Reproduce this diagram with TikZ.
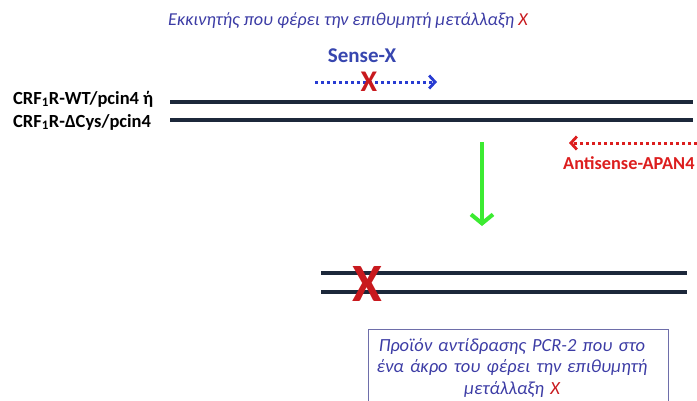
\documentclass[tikz,border=0pt]{standalone}
\usepackage{fontspec}
\setmainfont{Carlito}
\usetikzlibrary{arrows.meta}
\definecolor{txtblue}{RGB}{60,60,165}
\definecolor{senseblue}{RGB}{55,70,175}
\definecolor{dotblue}{RGB}{40,60,210}
\definecolor{xred}{RGB}{200,25,30}
\definecolor{antired}{RGB}{220,30,30}
\definecolor{dnacol}{RGB}{28,40,58}
\definecolor{arrgreen}{RGB}{60,235,50}
\definecolor{boxcol}{RGB}{110,110,170}
\tikzset{
  dna/.style={line width=3.6pt, draw=dnacol},
  primerdot/.style={line width=3pt, dash pattern=on 3pt off 3pt,
    -{Straight Barb[length=6pt,width=13pt,line width=2.8pt]}},
  bigx/.style={text=xred, font=\bfseries},
  lbl/.style={font=\bfseries\fontsize{18.5}{20}\selectfont, anchor=west, inner sep=0pt},
}
\begin{document}
\begin{tikzpicture}[x=1pt,y=-1pt]
\useasboundingbox (0,0) rectangle (697,400);
\clip (0,0) rectangle (697,400);
% title
\node[font=\itshape\fontsize{18.2}{20}\selectfont, text=txtblue] (title) at (348,21)
  {Εκκινητής που φέρει την επιθυμητή μετάλλαξη \textcolor{xred}{X}};
% labels
\node[lbl] (lab1) at (13,99) {CRF\textsubscript{1}R-WT/pcin4 ή};
\node[lbl] (lab2) at (13,122) {CRF\textsubscript{1}R-ΔCys/pcin4};
% template lines
\coordinate (t1a) at (170,102); \coordinate (t1b) at (693,102);
\coordinate (t2a) at (170,120); \coordinate (t2b) at (693,120);
\draw[dna] (t1a) -- (t1b);
\draw[dna] (t2a) -- (t2b);
% sense primer
\node[font=\bfseries\fontsize{21}{24}\selectfont, text=senseblue] (sense) at (362,56) {Sense-X};
\coordinate (sa) at (315,82); \coordinate (sb) at (437,82);
\draw[primerdot, draw=dotblue] (sa) -- (sb);
\node[bigx, font=\bfseries\fontsize{30}{30}\selectfont] (x1) at (369,82) {X};
% antisense primer
\coordinate (aa) at (697,143); \coordinate (ab) at (569,143);
\draw[primerdot, draw=antired] (aa) -- (ab);
\node[font=\bfseries\fontsize{18.3}{22}\selectfont, text=antired, anchor=west, inner sep=0pt] (anti) at (563,163) {Antisense-APAN4};
% green arrow
\coordinate (ga) at (482,142); \coordinate (gb) at (482,226);
\draw[line width=4pt, draw=arrgreen, -{Straight Barb[length=9pt,width=22pt,line width=4pt]}] (ga) -- (gb);
% product lines
\coordinate (p1a) at (321,273); \coordinate (p1b) at (687,273);
\coordinate (p2a) at (321,292); \coordinate (p2b) at (687,292);
\draw[dna] (p1a) -- (p1b);
\draw[dna] (p2a) -- (p2b);
\node[bigx, font=\bfseries\fontsize{54}{54}\selectfont] (x2) at (367,284) {X};
% box
\coordinate (bx1) at (368,329); \coordinate (bx2) at (668,410);
\draw[draw=boxcol, line width=0.8pt] (bx1) rectangle (bx2);
\node[anchor=north, text width=296pt, align=center, inner sep=0pt,
  font=\itshape\fontsize{18.5}{21.5}\selectfont, text=txtblue] (box) at (512,338)
  {Προϊόν αντίδρασης PCR-2 που στο\\ ένα άκρο του φέρει την επιθυμητή\\ μετάλλαξη \textcolor{xred}{X}};
\end{tikzpicture}
\end{document}
